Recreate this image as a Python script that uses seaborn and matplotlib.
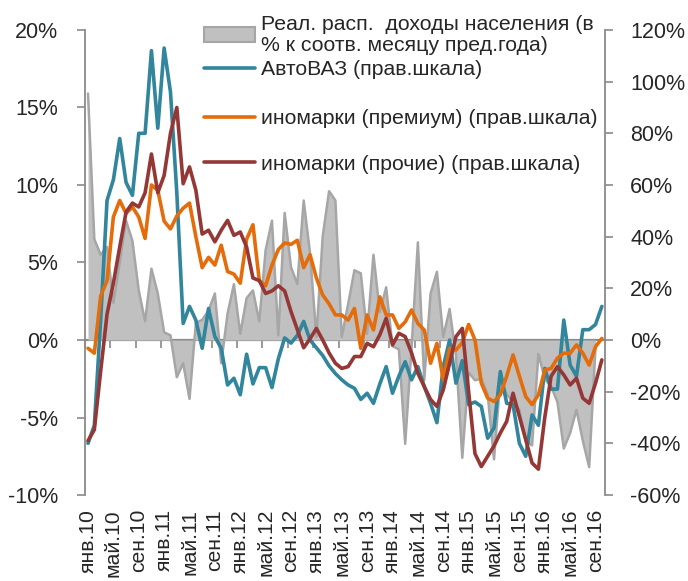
import numpy as np
import pandas as pd
import matplotlib
matplotlib.use("Agg")
import matplotlib.pyplot as plt
import matplotlib.ticker as mticker
from matplotlib.patches import Patch
from matplotlib.lines import Line2D
import seaborn as sns

sns.set_theme(style="white")
plt.rcParams["font.family"] = ["Liberation Sans", "DejaVu Sans"]
plt.rcParams["axes.unicode_minus"] = False

# monthly data, янв.2010 - окт.2016
tick_labels = [
    "янв.10", "май.10", "сен.10", "янв.11", "май.11", "сен.11",
    "янв.12", "май.12", "сен.12", "янв.13", "май.13", "сен.13",
    "янв.14", "май.14", "сен.14", "янв.15", "май.15", "сен.15",
    "янв.16", "май.16", "сен.16",
]

# real disposable income, % y/y (left axis)
income = [
    15.9, 6.5, 5.5, 6.0, 2.4, 5.0, 7.7, 6.4, 3.2, 1.2, 4.6, 3.0,
    0.5, 0.3, -2.4, -1.5, -3.8, 1.1, 1.3, 1.9, 3.0, -1.5, 1.7, 3.6,
    0.4, 2.7, 3.2, 1.2, 5.8, 7.7, 0.3, 8.2, 4.7, 3.6, 9.0, 5.6,
    0.2, 6.7, 9.6, 9.0, 0.2, 2.3, 4.5, 4.3, 0.4, 5.5, 1.8, 3.4,
    -0.4, -0.6, -6.7, -0.5, 6.3, -2.6, 3.0, 4.4, 0.2, 2.0, -1.0, -7.6,
    -2.1, -2.6, -2.5, -3.5, -7.7, -2.5, -3.5, -4.0, -4.5, -6.5, -6.8, -0.9,
    -2.5, -3.0, -4.0, -7.0, -6.0, -4.5, -6.5, -8.2, -0.5, np.nan,
]

# car sales, % y/y (right axis)
avtovaz = [
    -40, -33, 8, 54, 62, 78, 61, 56, 80, 80, 112, 82,
    113, 96, 57, 6.4, 13, 7.7, -3.2, 12.2, 1.3, -3.2, -17.4, -14.8,
    -21.2, -5.5, -17, -10.7, -10.7, -18.4, -7.3, 0.8, -1.2, 1.8, 7.2, 0,
    -3, -6, -10, -13, -15.4, -17.4, -18.7, -23, -20.6, -24.5, -17, -10.3,
    -20.6, -14, -8.4, -15.4, -10.3, -18, -24.5, -32, -10.3, 0, -16.7, -8,
    -25, -24, -25.7, -38, -34, -12.2, -24.5, -25, -40, -45, -29, -33,
    -11, -19, -19, 7.7, -9.7, -14, 4, 4, 6, 13,
]
premium = [
    -3.2, -5.1, 17, 23, 47.6, 54, 49, 51.5, 47.6, 39.3, 60, 58,
    46, 43, 48, 51, 53, 40, 28, 32, 29, 36.7, 26.5, 25.5,
    22, 39, 44.6, 23, 21, 29, 35, 37.6, 37, 38.6, 28, 33,
    24, 17.4, 14, 9.7, 9.7, 7.7, 12.2, -3.2, 9.7, 3.9, 16.7, 9.7,
    9.7, 4.5, 7, 11.6, 6.4, 3.9, -9, -1.3, -15.4, -3.2, -3.9, -1,
    6, 0, -16.7, -22.5, -23.8, -21.2, -14, -5.8, -14, -21.9, -25, -21.2,
    -11.6, -11, -7, -5.1, -5.1, -1.9, -5.1, -9.7, -2.6, 0.6,
]
other = [
    -39, -34.7, -12, 10, 22, 36, 49.5, 53, 51.5, 57, 72, 57,
    63.7, 80, 90, 60.5, 67, 58, 41, 42.5, 38, 42.5, 46.3, 40.5,
    41.8, 36, 24, 23, 18, 19, 21, 19, 11, 4, -3, 0.5,
    4.5, 0, -5, -9, -11, -10.3, -6.4, -6.4, -1.3, -2.6, 2, 8.4,
    -1.9, 2.6, 1.3, -5, -12.9, -18, -23, -25.7, -19.3, -9, 1.3, 4.5,
    -20, -44, -49, -45, -41, -36, -31.5, -20.6, -29.6, -38.6, -47.6, -50,
    -30, -14, -10.3, -13.5, -17.4, -14.8, -22.5, -24.5, -16.7, -7.7,
]

labels = [
    "Реал. расп.  доходы населения (в\n% к соотв. месяцу пред.года)",
    "АвтоВАЗ (прав.шкала)",
    "иномарки (премиум) (прав.шкала)",
    "иномарки (прочие) (прав.шкала)",
]

df = pd.DataFrame({
    "month": np.arange(len(income)),
    "income": income,
    "avtovaz": avtovaz,
    "premium": premium,
    "other": other,
})

AXIS_GRAY = "#8a8a8a"
c_teal, c_orange, c_brown = "#31859c", "#e46c0a", "#953735"
LW = 2.6

fig = plt.figure(figsize=(6.88, 5.81), dpi=100)
ax = fig.add_axes([0.1233, 0.148, 0.7561, 0.8004])
ax2 = ax.twinx()

# income area (left scale)
ax.fill_between(df["month"], df["income"], 0, color="#c0c0c0", lw=0, zorder=1)
sns.lineplot(data=df, x="month", y="income", ax=ax, color="#a6a6a6", lw=1.8, zorder=2)

# car sales lines (right scale)
for col, c in [("avtovaz", c_teal), ("premium", c_orange), ("other", c_brown)]:
    sns.lineplot(data=df, x="month", y=col, ax=ax2, color=c, lw=LW)

ax.set_xlim(-0.5, len(income) - 0.5)
ax.set_ylim(-10, 20)
ax2.set_ylim(-60, 120)
ax.yaxis.set_major_locator(mticker.MultipleLocator(5))
ax2.yaxis.set_major_locator(mticker.MultipleLocator(20))
ax.yaxis.set_major_formatter(mticker.PercentFormatter(decimals=0))
ax2.yaxis.set_major_formatter(mticker.PercentFormatter(decimals=0))

ax.set_xticks(np.arange(0, len(income), 4))
ax.set_xticklabels(tick_labels, rotation=90)
ax.tick_params(axis="x", length=0, pad=10, labelsize=15.2)
ax.tick_params(axis="y", length=6, width=1.2, color=AXIS_GRAY, pad=13, labelsize=15.5,
               left=True)
ax2.tick_params(axis="y", length=6, width=1.2, color=AXIS_GRAY, pad=12, labelsize=15.5,
                right=True)
for a in (ax, ax2):
    a.set_xlabel("")
    a.set_ylabel("")
    for s in a.spines.values():
        s.set_visible(False)
ax.spines["left"].set_visible(True)
ax.spines["left"].set_color(AXIS_GRAY)
ax.spines["left"].set_linewidth(1.3)
ax2.spines["right"].set_visible(True)
ax2.spines["right"].set_color(AXIS_GRAY)
ax2.spines["right"].set_linewidth(1.3)

# category axis crossing at zero with tick marks between groups
zero_axis = ax.secondary_xaxis(0, transform=ax.transData)
zero_axis.set_xticks(np.arange(-0.5, len(income), 4))
zero_axis.tick_params(axis="x", length=6, width=1.2, color=AXIS_GRAY, labelbottom=False)
zero_axis.spines["bottom"].set_color(AXIS_GRAY)
zero_axis.spines["bottom"].set_linewidth(1.6)

handles = [
    Patch(facecolor="#c0c0c0", edgecolor="#a6a6a6", linewidth=1.5),
    Line2D([], [], color=c_teal, lw=LW),
    Line2D([], [], color=c_orange, lw=LW),
    Line2D([], [], color=c_brown, lw=LW),
]
leg_kw = dict(loc="upper left", bbox_transform=fig.transFigure, frameon=False,
              fontsize=15.3, handlelength=2.4, handletextpad=0.3,
              borderaxespad=0, borderpad=0)
leg_a = ax2.legend(handles[:2], labels[:2], bbox_to_anchor=(0.296, 0.975),
                   labelspacing=0.25, **leg_kw)
for t in leg_a.get_texts():
    t.set_linespacing(1.15)
ax2.add_artist(leg_a)
ax2.legend(handles[2:], labels[2:], bbox_to_anchor=(0.296, 0.812),
           labelspacing=1.25, **leg_kw)

fig.savefig("out.png", dpi=100)
